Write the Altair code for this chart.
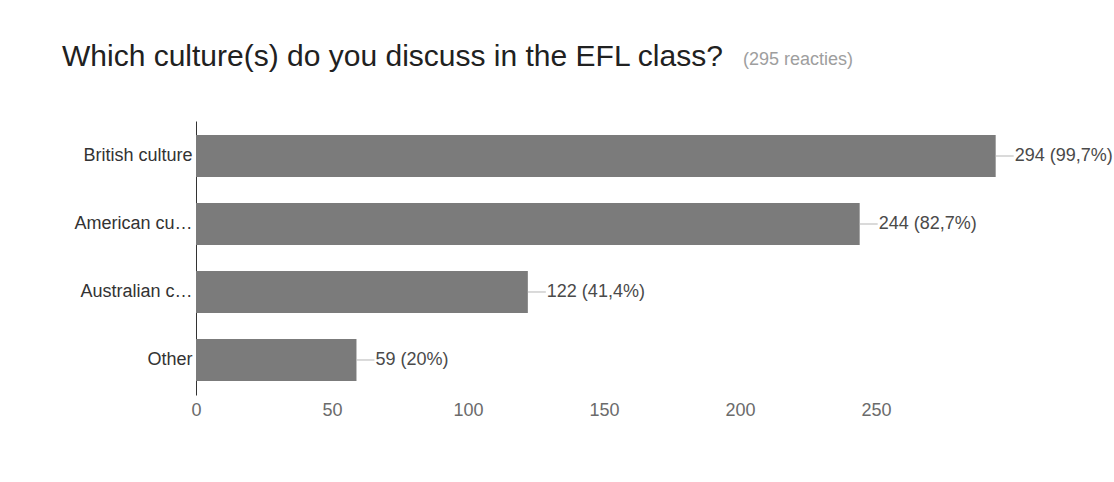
import altair as alt
import pandas as pd

categories = ["British culture", "American cu…", "Australian c…", "Other"]
counts = [294, 244, 122, 59]
percents = ["99,7%", "82,7%", "41,4%", "20%"]
x_ticks = [0, 50, 100, 150, 200, 250]
title_text = "Which culture(s) do you discuss in the EFL class?"
subtitle_text = "(295 reacties)"

df = pd.DataFrame({
    "category": categories,
    "count": counts,
    "label": [f"{c} ({p})" for c, p in zip(counts, percents)],
})

FONT = "Liberation Sans"

x_enc = alt.X("count:Q", scale=alt.Scale(domain=[0, 300], nice=False),
              axis=alt.Axis(values=x_ticks, grid=False, domain=False, ticks=False,
                            labelFontSize=18, labelColor="#6b6b6b", labelFont=FONT,
                            labelPadding=6, labelFlush=False, title=None))
y_enc = alt.Y("category:N", sort=None,
              scale=alt.Scale(paddingInner=0.382, paddingOuter=0.206),
              axis=alt.Axis(domain=True, domainColor="#333333", domainWidth=1,
                            ticks=False, grid=False, labelFontSize=18,
                            labelColor="#333333", labelFont=FONT, labelPadding=4,
                            labelLimit=200, title=None))

base = alt.Chart(df)

bars = base.mark_bar(color="#7b7b7b").encode(x=x_enc, y=y_enc)

leader = base.mark_rule(color="#b5b5b5", strokeWidth=1, x2Offset=18).encode(
    x="count:Q", x2="count:Q", y=alt.Y("category:N", sort=None, bandPosition=0.5)
)

labels = base.mark_text(align="left", baseline="middle", dx=19, fontSize=18,
                        font=FONT, color="#4a4a4a").encode(
    x="count:Q", y=alt.Y("category:N", sort=None), text="label:N"
)

ttl = alt.Chart(pd.DataFrame({"t": [title_text]})).mark_text(
    align="left", baseline="alphabetic", fontSize=30, font=FONT, color="#212121"
).encode(text="t:N", x=alt.value(-134), y=alt.value(-55))

sub = alt.Chart(pd.DataFrame({"t": [subtitle_text]})).mark_text(
    align="left", baseline="alphabetic", fontSize=18, font=FONT, color="#9e9e9e"
).encode(text="t:N", x=alt.value(547), y=alt.value(-56))

chart = alt.layer(bars, leader, labels, ttl, sub).properties(
    width=816, height=274,
    background="white",
    autosize=alt.AutoSizeParams(type="none"),
    padding={"left": 196, "top": 121, "right": 102, "bottom": 87},
).configure_view(strokeWidth=0, stroke=None)

chart.save("out.html", embed_options={"renderer": "svg", "actions": False})
